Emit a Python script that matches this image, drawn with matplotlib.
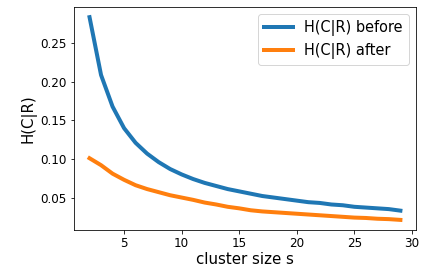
import numpy as np
import matplotlib
matplotlib.use('Agg')
import matplotlib.pyplot as plt

# cluster sizes and conditional entropy values
cluster_size = np.arange(2, 30)
h_before = [0.284, 0.209, 0.168, 0.140, 0.121, 0.107, 0.096, 0.087, 0.080, 0.074,
            0.069, 0.065, 0.061, 0.058, 0.055, 0.052, 0.050, 0.048, 0.046, 0.044,
            0.043, 0.041, 0.040, 0.038, 0.037, 0.036, 0.035, 0.033]
h_after = [0.101, 0.092, 0.081, 0.073, 0.066, 0.061, 0.057, 0.053, 0.050, 0.047,
           0.0435, 0.041, 0.038, 0.036, 0.0335, 0.032, 0.031, 0.030, 0.029, 0.028,
           0.027, 0.026, 0.025, 0.024, 0.0235, 0.0225, 0.022, 0.021]

fig = plt.figure(figsize=(424 / 72, 270 / 72), dpi=72)
ax = fig.add_axes([0.1745, 0.148, 0.8065, 0.826])

ax.plot(cluster_size, h_before, linewidth=4, label='H(C|R) before')
ax.plot(cluster_size, h_after, linewidth=4, label='H(C|R) after')

ax.set_xticks([5, 10, 15, 20, 25, 30])
ax.set_yticks([0.05, 0.10, 0.15, 0.20, 0.25])
ax.tick_params(labelsize=12)
ax.set_xlabel('cluster size s', fontsize=15, labelpad=2)
ax.set_ylabel('H(C|R)', fontsize=15, labelpad=4)
ax.legend(fontsize=14.5)

fig.savefig('out.png', dpi=72)
